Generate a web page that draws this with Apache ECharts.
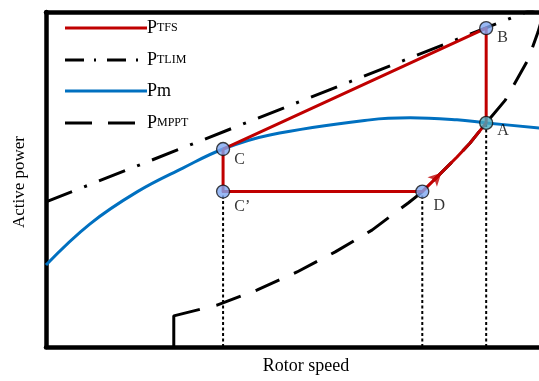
<!DOCTYPE html>
<html><head><meta charset="utf-8">
<script src="https://cdn.jsdelivr.net/npm/echarts@6/dist/echarts.min.js"></script>
<style>html,body{margin:0;padding:0;background:#fff}#c{width:539px;height:381px}</style>
</head><body><div id="c"></div>
<script>
// Rotor speed (x) vs active power (y), both in relative units
const pmCurve = [[0,24.5],[8.7,36.7],[18.1,46.3],[27.2,53.4],[35.2,59.1],[44.5,63.3],[64.4,67.8],[72.4,68.4],[81.7,67.8],[87.5,66.9],[100,65.1]];
const pTlim = [[0,43.3],[100,102.7]];
const pMppt = [[25.4,0],[25.4,9.3],[34.0,12.5],[41.9,17.0],[49.9,22.4],[57.5,28.4],[64.8,34.9],[72.0,43.0],[74.8,46.3],[77.7,50.7],[81.7,56.7],[84.3,60.9],[87.5,66.9],[91.3,73.7],[95.8,85.7],[97.8,94.0],[99.0,100]];
const pointNames = ['C','C\u2019','D','A','B'];
const pointX = [35.2,35.2,74.8,87.5,87.5];
const pointY = [59.1,46.4,46.4,66.9,95.2];
const arrowAt = [78.6,52.0];
const dottedFrom = ['C\u2019','D','A'];

const P = {};
pointNames.forEach((n,i)=>P[n]=[pointX[i],pointY[i]]);
// PTFS trajectory: C -> B -> A -> along MPPT curve -> D -> C' -> C
const alongMppt = pMppt.filter(p=>p[0]>P['D'][0] && p[0]<P['A'][0]).reverse();
const pTfs = [P['C'],P['B'],P['A'],...alongMppt,P['D'],P['C\u2019'],P['C']];

const labelOffset = {'C':[0,11],'C\u2019':[0,15],'D':[0,14],'A':[0,8],'B':[0,10]};
const fillColor = {'A':'#4aabc0'};

const serif = '"Liberation Serif", "Times New Roman", serif';
const chart = echarts.init(document.getElementById('c'));

const dottedSeries = dottedFrom.map(n=>({
  type:'line', data:[[P[n][0],0],[P[n][0],P[n][1]]], symbol:'none', silent:true, z:2,
  lineStyle:{color:'#000',width:2,type:[3,2.5]}
}));

const mpptDash = [58,17];
for(let i=0;i<16;i++){mpptDash.push(26,16);}

const hiddenAxis = {axisTick:{show:false},axisLabel:{show:false},splitLine:{show:false}};
const thick = {show:true,lineStyle:{color:'#000',width:4.5}};

chart.setOption({
  animation:false,
  grid:{left:46,top:12,bottom:34,right:0},
  xAxis:[
    Object.assign({type:'value',min:0,max:98,position:'bottom',axisLine:thick},hiddenAxis),
    Object.assign({type:'value',min:0,max:98,position:'top',axisLine:thick},hiddenAxis)
  ],
  yAxis:Object.assign({type:'value',min:0,max:100,axisLine:thick},hiddenAxis),
  series:[
    {name:'PTLIM',type:'line',data:pTlim,symbol:'none',z:2,lineStyle:{color:'#000',width:3,type:[28,13,3,13]}},
    {name:'Pm',type:'line',data:pmCurve,symbol:'none',smooth:0.4,z:3,lineStyle:{color:'#0070c0',width:3}},
    {name:'PMPPT',type:'line',data:pMppt,symbol:'none',z:3,lineStyle:{color:'#000',width:3,type:mpptDash}},
    ...dottedSeries,
    {name:'PTFS',type:'line',data:pTfs,symbol:'none',z:4,lineStyle:{color:'#c00000',width:3,join:'round'}},
    {type:'scatter',data:[arrowAt],symbol:'arrow',symbolSize:[10,13],symbolRotate:-45,z:5,itemStyle:{color:'#c00000'}},
    {type:'scatter',z:6,symbol:'circle',symbolSize:13,
      data:pointNames.map((n,i)=>({name:n,value:[pointX[i],pointY[i]],
        itemStyle:{color:fillColor[n]||'#80a8f2',borderColor:'#111',borderWidth:1.3},
        label:{show:true,position:'right',distance:4,offset:labelOffset[n],formatter:n,
          fontFamily:serif,fontSize:16,color:'#000'}}))}
  ],
  graphic:[
    {type:'line',shape:{x1:65,y1:28,x2:147,y2:28},style:{stroke:'#c00000',lineWidth:3}},
    {type:'line',shape:{x1:65,y1:60,x2:140,y2:60},style:{stroke:'#000',lineWidth:3,lineDash:[19,10,2,11]}},
    {type:'line',shape:{x1:65,y1:91,x2:147,y2:91},style:{stroke:'#0070c0',lineWidth:3}},
    {type:'line',shape:{x1:65,y1:123,x2:138,y2:123},style:{stroke:'#000',lineWidth:3,lineDash:[27,16]}},
    {type:'text',left:147,top:19,style:{text:'{a|P}{b|TFS}',rich:{a:{fontSize:18,fontFamily:serif,fill:'#000'},b:{fontSize:12,fontFamily:serif,fill:'#000'}}}},
    {type:'text',left:147,top:51,style:{text:'{a|P}{b|TLIM}',rich:{a:{fontSize:18,fontFamily:serif,fill:'#000'},b:{fontSize:12,fontFamily:serif,fill:'#000'}}}},
    {type:'text',left:147,top:82,style:{text:'Pm',font:'18px '+serif,fill:'#000'}},
    {type:'text',left:147,top:114,style:{text:'{a|P}{b|MPPT}',rich:{a:{fontSize:18,fontFamily:serif,fill:'#000'},b:{fontSize:12,fontFamily:serif,fill:'#000'}}}},
    {type:'text',x:20,y:182,rotation:Math.PI/2,style:{text:'Active power',font:'17px '+serif,fill:'#000',align:'center',verticalAlign:'middle'}},
    {type:'text',x:306,y:366,style:{text:'Rotor speed',font:'18px '+serif,fill:'#000',align:'center',verticalAlign:'middle'}}
  ]
});
</script></body></html>
